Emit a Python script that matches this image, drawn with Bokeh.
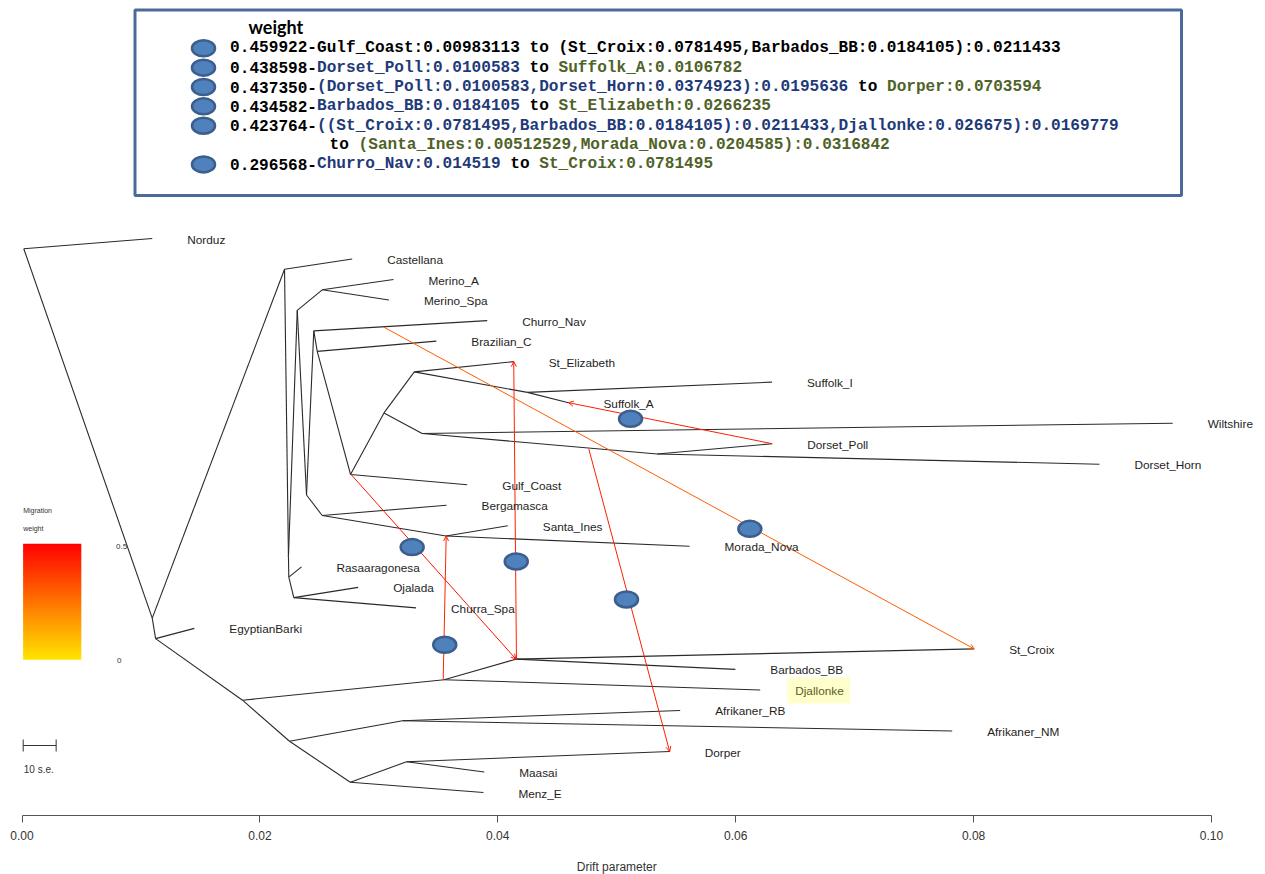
import math
import numpy as np
from bokeh.plotting import figure
from bokeh.models import (Range1d, ColumnDataSource, LabelSet, Arrow, OpenHead,
                          FixedTicker, PrintfTickFormatter)
from bokeh.core.properties import value, field
from bokeh.embed import file_html
from bokeh.resources import INLINE

# ---------------- data (drift parameter on x, leaf row on y) ----------------
leaf_names = ["Norduz", "Castellana", "Merino_A", "Merino_Spa", "Churro_Nav", "Brazilian_C",
              "St_Elizabeth", "Suffolk_I", "Suffolk_A", "Wiltshire", "Dorset_Poll", "Dorset_Horn",
              "Gulf_Coast", "Bergamasca", "Santa_Ines", "Morada_Nova", "Rasaaragonesa", "Ojalada",
              "Churra_Spa", "EgyptianBarki", "St_Croix", "Barbados_BB", "Djallonke", "Afrikaner_RB",
              "Afrikaner_NM", "Dorper", "Maasai", "Menz_E"]
leaf_x = [0.01095, 0.02776, 0.03123, 0.03085, 0.03911, 0.03483,
          0.04134, 0.06305, 0.04594, 0.09674, 0.06307, 0.09058,
          0.03743, 0.03569, 0.04084, 0.05612, 0.02350, 0.02826,
          0.03313, 0.01449, 0.08005, 0.05997, 0.06206, 0.05533,
          0.07820, 0.05445, 0.03886, 0.03879]
leaf_row = list(range(len(leaf_names)))

node_names = ["root", "A", "C", "D", "E", "G", "F", "H", "I", "J", "B", "X", "K", "L",
              "M", "Mer", "U", "V", "Y", "S", "T", "R", "P", "N", "O", "Q", "W"]
node_x = [0.00015, 0.01095, 0.01123, 0.01854, 0.03549, 0.04153, 0.02249, 0.03199, 0.02760,
          0.03233, 0.02207, 0.02240, 0.02243, 0.02285, 0.02314, 0.02524, 0.02392, 0.02524,
          0.03565, 0.02453, 0.02482, 0.02762, 0.03043, 0.03298, 0.04249, 0.03364, 0.05340]
node_row = [0.5, 18.5, 19.5, 22.5, 21.5, 20.5, 24.5, 23.5, 26.5, 25.5, 1.5, 15.5, 16.5, 17.5,
            3.5, 2.5, 12.5, 13.5, 14.5, 4.5, 5.5, 11.5, 8.5, 6.5, 7.5, 9.5, 10.5]

edge_parent = ["root", "root", "A", "A", "C", "C", "D", "D", "E", "E", "G", "G", "F", "F",
               "H", "H", "I", "I", "J", "J", "B", "B", "X", "X", "M", "M", "Mer", "Mer",
               "U", "U", "S", "S", "T", "T", "R", "R", "P", "P", "N", "N", "O", "O",
               "Q", "Q", "W", "W", "V", "V", "Y", "Y", "K", "K", "L", "L"]
edge_child = ["Norduz", "A", "B", "C", "EgyptianBarki", "D", "E", "F", "G", "Djallonke",
              "St_Croix", "Barbados_BB", "H", "I", "Afrikaner_RB", "Afrikaner_NM", "J", "Menz_E",
              "Dorper", "Maasai", "Castellana", "X", "M", "K", "Mer", "U", "Merino_A", "Merino_Spa",
              "S", "V", "Churro_Nav", "T", "Brazilian_C", "R", "P", "Gulf_Coast", "N", "Q",
              "St_Elizabeth", "O", "Suffolk_I", "Suffolk_A", "Wiltshire", "W", "Dorset_Poll",
              "Dorset_Horn", "Bergamasca", "Y", "Santa_Ines", "Morada_Nova", "Rasaaragonesa", "L",
              "Ojalada", "Churra_Spa"]

mig_weight = [0.459922, 0.438598, 0.437350, 0.434582, 0.423764, 0.296568]
mig_x0 = [0.02762, 0.06307, 0.04765, 0.04157, 0.03541, 0.03042]
mig_y0 = [11.47, 10.0, 10.25, 20.53, 21.5, 4.32]
mig_x1 = [0.04153, 0.04594, 0.05445, 0.04134, 0.03566, 0.08005]
mig_y1 = [20.5, 8.0, 25.0, 6.0, 14.5, 20.0]

mark_x = [0.05116, 0.06119, 0.03280, 0.04155, 0.05082, 0.03554]
mark_row = [8.79, 14.15, 15.04, 15.74, 17.59, 19.80]

x_ticks = [0.00, 0.02, 0.04, 0.06, 0.08, 0.10]
x_title = "Drift parameter"
se10 = 0.00277
highlight_leaf = "Djallonke"

legend_title = "weight"
legend_rows = [
    [(0, "0.459922-Gulf_Coast:0.00983113 to (St_Croix:0.0781495,Barbados_BB:0.0184105):0.0211433", "k")],
    [(0, "0.438598-", "k"), (9, "Dorset_Poll:0.0100583", "b"), (30, " to ", "k"), (34, "Suffolk_A:0.0106782", "g")],
    [(0, "0.437350-", "k"), (9, "(Dorset_Poll:0.0100583,Dorset_Horn:0.0374923):0.0195636", "b"),
     (64, " to ", "k"), (68, "Dorper:0.0703594", "g")],
    [(0, "0.434582-", "k"), (9, "Barbados_BB:0.0184105", "b"), (30, " to ", "k"), (34, "St_Elizabeth:0.0266235", "g")],
    [(0, "0.423764-", "k"), (9, "((St_Croix:0.0781495,Barbados_BB:0.0184105):0.0211433,Djallonke:0.026675):0.0169779", "b")],
    [(10.3, "to ", "k"), (13.3, "(Santa_Ines:0.00512529,Morada_Nova:0.0204585):0.0316842", "g")],
    [(0, "0.296568-", "k"), (9, "Churro_Nav:0.014519", "b"), (28, " to ", "k"), (32, "St_Croix:0.0781495", "g")],
]
legend_mark_rows = [0, 1, 2, 3, 4, 6]

# ---------------- layout (page pixels) ----------------
W, H = 1265, 874
X0PX, XS = 21.5, 11895.0     # page px of drift 0, px per drift unit
Y0PX, YS = 238.0, 20.52      # page px of row 0, px per row
AXIS_PY = 815.0


def px2x(px):
    return (px - X0PX) / XS


def py2y(py):
    return (py - Y0PX) / YS


def mig_color(w):
    idx = math.floor(w * 200) + 50
    k = 151 - idx
    g = int(round(255 * (k - 1) / 112.0))
    g = max(0, min(255, g))
    return "#FF%02X00" % g


p = figure(width=W, height=H, title=None,
           x_range=Range1d(px2x(0), px2x(W)),
           y_range=Range1d(py2y(H), py2y(0)),
           output_backend="svg", toolbar_location=None, y_axis_location=None,
           min_border=0, min_border_left=0, min_border_top=0,
           min_border_right=0, min_border_bottom=0)
p.xgrid.visible = False
p.ygrid.visible = False
p.outline_line_color = None
p.background_fill_color = "white"
p.border_fill_color = "white"

ax = p.xaxis[0]
ax.fixed_location = py2y(AXIS_PY)
ax.bounds = (x_ticks[0], x_ticks[-1])
ax.ticker = FixedTicker(ticks=x_ticks)
ax.formatter = PrintfTickFormatter(format="%.2f")
ax.minor_tick_line_color = None
ax.major_tick_in = 0
ax.major_tick_out = 7
ax.axis_line_color = "#555555"
ax.major_tick_line_color = "#555555"
ax.major_label_standoff = 8
ax.major_label_text_font = "Liberation Sans"
ax.major_label_text_font_size = "12px"
ax.major_label_text_color = "#333333"

p.text(x=[(x_ticks[0] + x_ticks[-1]) / 2], y=[py2y(866)], text=[x_title],
       text_font=value("Liberation Sans"), text_font_size="12px", text_align="center",
       text_baseline="middle", text_color="#333333")

# ---------------- tree ----------------
pos = {n: (x, r) for n, x, r in zip(leaf_names, leaf_x, leaf_row)}
pos.update({n: (x, r) for n, x, r in zip(node_names, node_x, node_row)})
p.segment(x0=[pos[a][0] for a in edge_parent], y0=[pos[a][1] for a in edge_parent],
          x1=[pos[b][0] for b in edge_child], y1=[pos[b][1] for b in edge_child],
          line_color="#2a2a2a", line_width=1.1)

# highlight box around a leaf label
hi = leaf_names.index(highlight_leaf)
hx = leaf_x[hi]
p.quad(left=hx + 27 / XS, right=hx + 90 / XS, top=leaf_row[hi] - 12.5 / YS,
       bottom=leaf_row[hi] + 13.5 / YS, fill_color="#FFFFCC", line_color=None)

leaf_src = ColumnDataSource(dict(x=leaf_x, y=leaf_row, name=leaf_names,
                                 color=["#5C5C1E" if n == highlight_leaf else "#1e1e1e" for n in leaf_names]))
p.add_layout(LabelSet(x="x", y="y", text="name", source=leaf_src, x_offset=35, y_offset=-1,
                      text_baseline="middle", text_align="left",
                      text_font=value("Liberation Sans"), text_font_size="11.8px",
                      text_color=field("color")))

# ---------------- migrations ----------------
mcols = [mig_color(w) for w in mig_weight]
p.segment(x0=mig_x0, y0=mig_y0, x1=mig_x1, y1=mig_y1, line_color=mcols, line_width=1)
for i in range(len(mig_weight)):
    dx = mig_x1[i] - mig_x0[i]
    dy = mig_y1[i] - mig_y0[i]
    p.add_layout(Arrow(end=OpenHead(size=5, line_color=mcols[i], line_width=1), line_alpha=0,
                       x_start=mig_x1[i] - 0.02 * dx, y_start=mig_y1[i] - 0.02 * dy,
                       x_end=mig_x1[i], y_end=mig_y1[i], line_color=mcols[i], line_width=1))

ell = p.ellipse(x=mark_x, y=mark_row, width=23, height=16, width_units="screen", height_units="screen",
                fill_color="#4F81BD", line_color="#3B5E8C", line_width=2.5)
ell.level = "overlay"

# ---------------- colour key & scale bar ----------------
n = 100
vals = np.linspace(0, 0.5, n + 1)
bar_bot, bar_top = 659.3, 543.3
ys = [py2y(bar_bot + (bar_top - bar_bot) * v / 0.5) for v in vals]
ov = 0.8 / YS
p.quad(left=px2x(22.7), right=px2x(80.7), bottom=ys[:-1],
       top=[ys[i + 1] - (ov if i < n - 1 else 0) for i in range(n)],
       fill_color=[mig_color((vals[i] + vals[i + 1]) / 2) for i in range(n)], line_color=None)
p.text(x=[px2x(22.7), px2x(22.7)], y=[py2y(510), py2y(527.5)], text=["Migration", "weight"],
       text_font=value("Liberation Sans"), text_font_size="7px", text_baseline="middle",
       text_color="#333333")
p.text(x=[px2x(115.5), px2x(116.5)], y=[py2y(545.5), py2y(660.3)], text=["0.5", "0"],
       text_font=value("Liberation Sans"), text_font_size="8px", text_baseline="middle",
       text_color="#333333")

sb_x0 = px2x(22.7)
sb_y = py2y(745)
p.segment(x0=[sb_x0, sb_x0, sb_x0 + se10], y0=[sb_y, sb_y - 6 / YS, sb_y - 6 / YS],
          x1=[sb_x0 + se10, sb_x0, sb_x0 + se10], y1=[sb_y, sb_y + 6 / YS, sb_y + 6 / YS],
          line_color="#333333", line_width=1)
p.text(x=[px2x(23.3)], y=[py2y(769.3)], text=["10 s.e."], text_font=value("Liberation Sans"),
       text_font_size="10px", text_baseline="middle", text_color="#333333")

# ---------------- migration legend box ----------------
p.quad(left=px2x(134.5), right=px2x(1181), top=py2y(9.5), bottom=py2y(195),
       fill_color=None, line_color="#4A6B9A", line_width=3)
p.text(x=[px2x(248)], y=[py2y(26)], text=[legend_title], text_font=value("Lato"),
       text_font_size="18px", text_font_style="bold", text_baseline="middle", text_color="black")

TX0, CW = 229.6, 9.66
row_y = [47.8 + 19.35 * i for i in range(len(legend_rows))]
ccodes = {"k": "black", "b": "#1F3A78", "g": "#4F6228"}
tx, ty, tt, tc = [], [], [], []
for i, segs in enumerate(legend_rows):
    for col, txt, cc in segs:
        lead = len(txt) - len(txt.lstrip())
        tx.append(px2x(TX0 + CW * (col + lead)))
        ty.append(py2y(row_y[i]))
        tt.append(txt.strip())
        tc.append(ccodes[cc])
p.text(x=tx, y=ty, text=tt, text_color=tc, text_font=value("Liberation Mono"),
       text_font_size="16.1px", text_font_style="bold", text_baseline="middle")

lm = p.ellipse(x=[px2x(203)] * len(legend_mark_rows), y=[py2y(row_y[i]) for i in legend_mark_rows],
               width=23, height=16, width_units="screen", height_units="screen",
               fill_color="#4F81BD", line_color="#3B5E8C", line_width=2.5)
lm.level = "overlay"

open("out.html", "w").write(file_html(p, INLINE))
